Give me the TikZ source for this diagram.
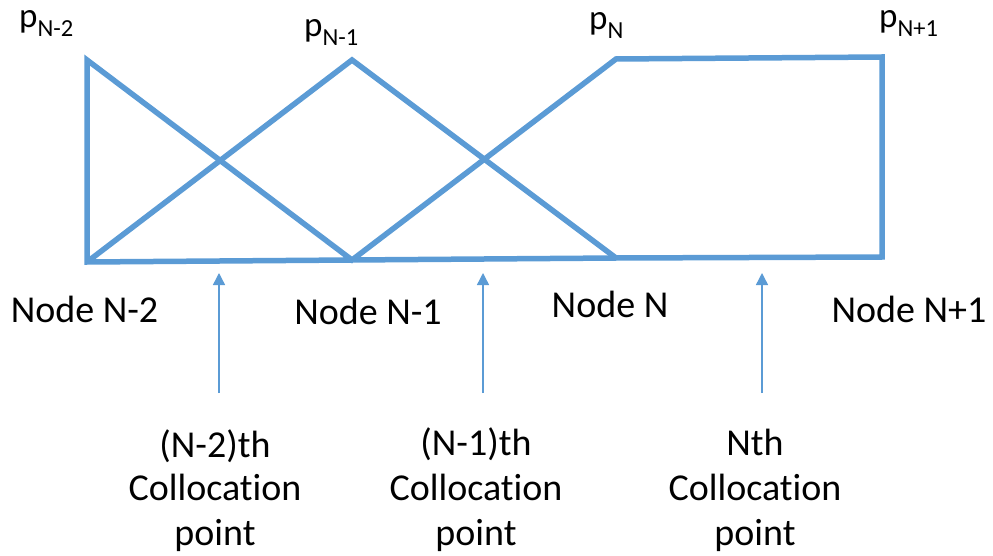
\documentclass[tikz,border=0pt]{standalone}
\usepackage{fontspec}
\setmainfont{Carlito}[RawFeature={-liga}]
\usetikzlibrary{arrows.meta}
\definecolor{officeblue}{HTML}{5B9BD5}
\tikzset{
  frame/.style={draw=officeblue, line width=5.5pt, line join=miter},
  colarrow/.style={draw=officeblue, line width=1.4pt, -{Triangle[width=12pt,length=12pt]}},
  plabel/.style={anchor=base west, inner sep=0pt, font=\fontsize{35}{35}\selectfont},
  nlabel/.style={anchor=base, inner sep=0pt, font=\fontsize{38}{38}\selectfont},
}
\newcommand{\psub}[1]{p\raisebox{-8.5pt}{\fontsize{24.5}{24.5}\selectfont #1}}
\begin{document}
\begin{tikzpicture}[x=1pt,y=-1pt]
\useasboundingbox (0,0) rectangle (993,556);
% vertices
\coordinate (t1) at (87,60);
\coordinate (t2) at (352,60);
\coordinate (t3) at (616,59);
\coordinate (t4) at (882,57);
\coordinate (b1) at (87,262);
\coordinate (b2) at (352,260);
\coordinate (b3) at (616,258);
\coordinate (b4) at (882,257);
% frame
\draw[frame] (b1) -- (t1) -- (b2) -- (t3) -- (t4) -- (b4) -- (b3) -- (b2) -- cycle;
\draw[frame] (b1) -- (t2) -- (b3);
% top labels
\node[plabel] (p1) at (19,28) {\psub{N-2}};
\node[plabel] (p2) at (304,37) {\psub{N-1}};
\node[plabel] (p3) at (589,30) {\psub{N}};
\node[plabel] (p4) at (879,28) {\psub{N+1}};
% node labels
\node[nlabel] (n1) at (84.5,322) {Node N-2};
\node[nlabel] (n2) at (368,324) {Node N-1};
\node[nlabel] (n3) at (610,317) {Node N};
\node[nlabel] (n4) at (909,322) {Node N+1};
% collocation arrows
\coordinate (a1s) at (219,393);
\coordinate (a1e) at (219,273);
\coordinate (a2s) at (483,393);
\coordinate (a2e) at (483,273);
\coordinate (a3s) at (762,393);
\coordinate (a3e) at (762,273);
\draw[colarrow] (a1s) -- (a1e);
\draw[colarrow] (a2s) -- (a2e);
\draw[colarrow] (a3s) -- (a3e);
% collocation labels
\node[nlabel] (c1a) at (215,457) {(N-2)th};
\node[nlabel] (c1b) at (215,500) {Collocation};
\node[nlabel] (c1c) at (215,545) {point};
\node[nlabel] (c2a) at (476,455) {(N-1)th};
\node[nlabel] (c2b) at (476,500) {Collocation};
\node[nlabel] (c2c) at (476,545) {point};
\node[nlabel] (c3a) at (755,455) {Nth};
\node[nlabel] (c3b) at (755,500) {Collocation};
\node[nlabel] (c3c) at (755,545) {point};
\end{tikzpicture}
\end{document}
